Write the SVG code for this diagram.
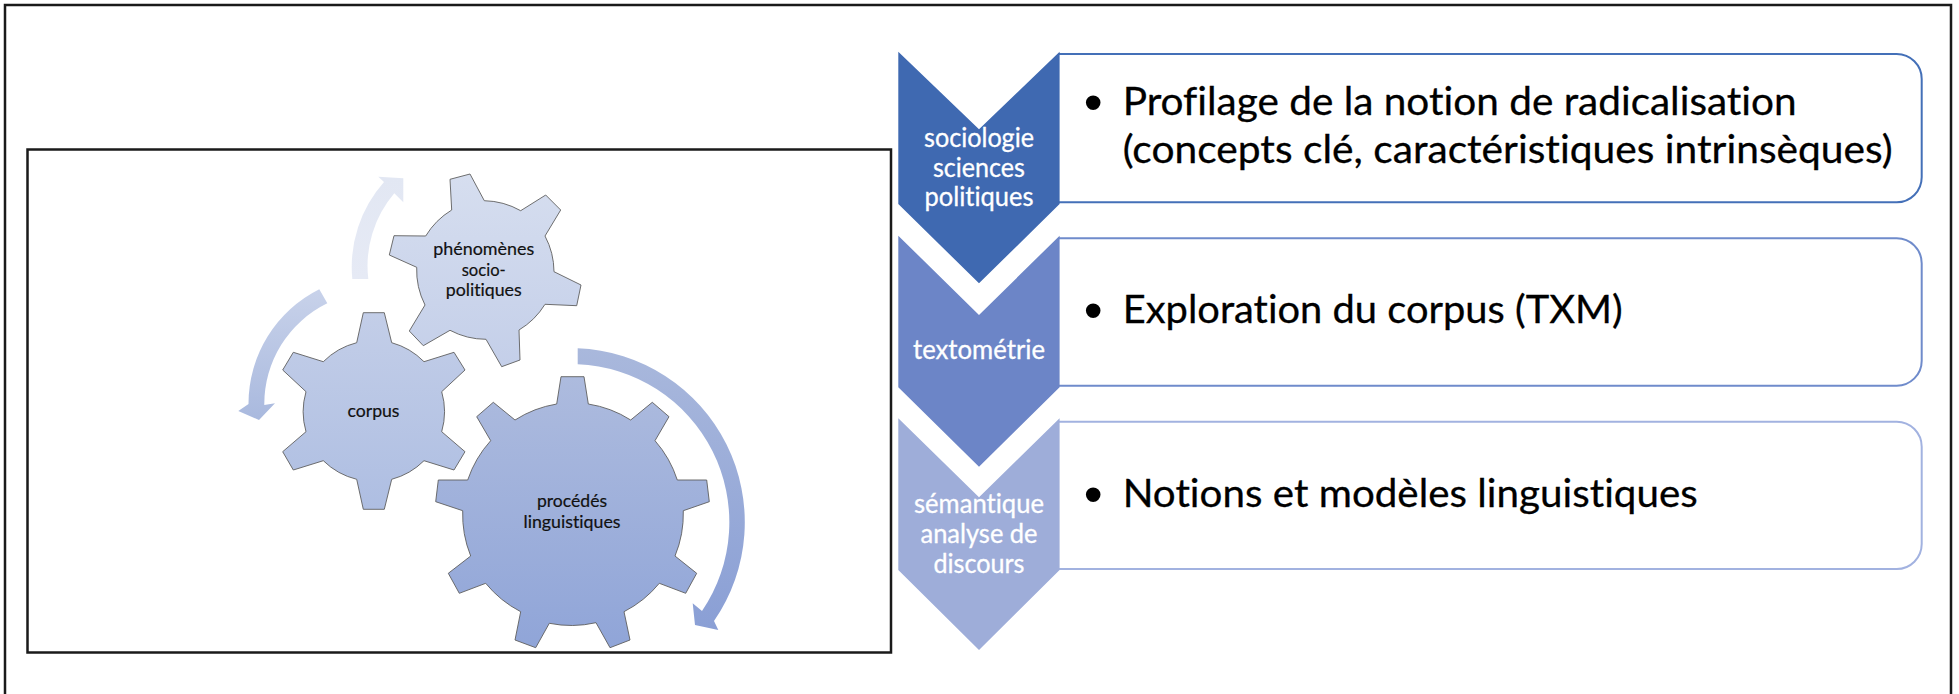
<svg xmlns="http://www.w3.org/2000/svg" width="1959" height="694" viewBox="0 0 1959 694">
<style>
text{font-variant-ligatures:none}
.frame{fill:none;stroke:#1a1a1a;stroke-width:2.5}
.gear{stroke:#5f5f5f;stroke-width:.9;stroke-linejoin:round}
.gt{font-family:"Lato","Liberation Sans",sans-serif;font-size:18px;fill:#111;stroke:#111;stroke-width:.2;text-anchor:middle}
.ct{font-family:"Lato","Liberation Sans",sans-serif;font-size:26px;fill:#fff;stroke:#fff;stroke-width:.3;text-anchor:middle}
.bt{font-family:"Lato","Liberation Sans",sans-serif;font-size:39px;fill:#000;stroke:#000;stroke-width:.3}
.bu{font-family:"Liberation Sans",sans-serif;font-size:54px;fill:#000;text-anchor:middle}
.box{fill:#fff;stroke-width:2}
</style>
<defs>
<linearGradient id="g1" x1="0" y1="0" x2="0" y2="1"><stop offset="0" stop-color="#d6deef"/><stop offset="1" stop-color="#c4cfe9"/></linearGradient>
<linearGradient id="g2" x1="0" y1="0" x2="0" y2="1"><stop offset="0" stop-color="#c3cee8"/><stop offset="1" stop-color="#aebee2"/></linearGradient>
<linearGradient id="g3" x1="0" y1="0" x2="0" y2="1"><stop offset="0" stop-color="#adbbde"/><stop offset="1" stop-color="#90a5d8"/></linearGradient>
<linearGradient id="a1" x1="0" y1="0" x2="0" y2="1"><stop offset="0" stop-color="#e2e7f3"/><stop offset="1" stop-color="#e6eaf5"/></linearGradient>
<linearGradient id="a2" x1="0" y1="0" x2="0" y2="1"><stop offset="0" stop-color="#c8d2ea"/><stop offset="1" stop-color="#a9b9de"/></linearGradient>
<linearGradient id="a3" x1="0" y1="0" x2="0" y2="1"><stop offset="0" stop-color="#a9b8dc"/><stop offset="1" stop-color="#8a9fd5"/></linearGradient>
</defs>
<rect width="1959" height="694" fill="#fff"/>
<path class="frame" d="M5,694V5H1951V694"/>
<rect class="frame" x="27.5" y="149.5" width="863.5" height="503"/>

<g id="connectors">
<path fill="url(#a1)" d="M352.3,279A128,128 0 0 1 384,182L378.3,176.7L403.3,178.3L403.3,202.3L394.3,193.3A112,112 0 0 0 368.3,279Z"/>
<path fill="url(#a2)" d="M319.3,289.3A128,128 0 0 0 248.5,404L238.3,411L259,420L275,403.3L264.3,405A112,112 0 0 1 327.3,303.3Z"/>
<path fill="url(#a3)" d="M577.7,348.3A174,174 0 0 1 714,621L718.3,630L695,625L692.7,603.3L702,611A158,158 0 0 0 577.7,364.3Z"/>
</g>

<g id="gear-phenomenes">
<path class="gear" fill="url(#g1)" d="M450,179.3L470,174L484.3,200.7A77,77 0 0 1 520.7,210.7L545.7,195L560.7,210L545,236A77,77 0 0 1 554,271.7L581,285L576.7,305.7L545,304.3A77,77 0 0 1 519,330L520,360L501.7,366.7L486,339.3A77,77 0 0 1 450,330.3L423.3,345.7L409.3,331L425,305A77,77 0 0 1 416.7,267.3L389.3,255L394,235.7L425.7,236A77,77 0 0 1 451.7,210Z"/>
<text class="gt" x="483.7" y="255" textLength="101" lengthAdjust="spacingAndGlyphs">phénomènes</text>
<text class="gt" x="483.7" y="276" textLength="44" lengthAdjust="spacingAndGlyphs">socio-</text>
<text class="gt" x="483.7" y="295.7" textLength="76" lengthAdjust="spacingAndGlyphs">politiques</text>
</g>
<g id="gear-corpus">
<path class="gear" fill="url(#g2)" d="M363.3,312.7L384.3,312.7L391.7,342.7A72,72 0 0 1 424,361.7L454,352.3L465,370L441.7,391.7A72,72 0 0 1 441.7,431.7L465,451.7L454,470L424,460.7A72,72 0 0 1 391.7,479.3L384.3,509.3L363.3,509.3L356.7,479.3A72,72 0 0 1 323.3,460.7L293.3,470L282.7,451.7L306,431.7A72,72 0 0 1 306,391.7L282.7,370L293.3,352.3L323.3,361.7A72,72 0 0 1 356.7,342.7Z"/>
<text class="gt" x="373.5" y="417.3" textLength="52" lengthAdjust="spacingAndGlyphs">corpus</text>
</g>
<g id="gear-procedes">
<path class="gear" fill="url(#g3)" d="M561,376.7L584,376.7L588.3,404A111,111 0 0 1 630.7,420L652.3,402.3L669,416.7L655,440.7A111,111 0 0 1 677.3,480L706.7,480L709.3,501.7L683.3,510.7A111,111 0 0 1 675,556L696.7,573.3L685.7,593.3L659.3,583.3A111,111 0 0 1 624,611.7L630,640L610,647.7L596,622.7A111,111 0 0 1 549.3,623.3L535.7,647.7L515,640L520.7,611.7A111,111 0 0 1 485.7,583.3L459.3,593.3L448.3,573.3L470.7,556A111,111 0 0 1 462.7,510.7L435.7,501.7L438.3,480L467.7,480A111,111 0 0 1 490.7,440.7L476.7,416.7L493.3,402.3L515,420A111,111 0 0 1 556.7,404Z"/>
<text class="gt" x="572" y="507.3" textLength="70" lengthAdjust="spacingAndGlyphs">procédés</text>
<text class="gt" x="572" y="527.7" textLength="97" lengthAdjust="spacingAndGlyphs">linguistiques</text>
</g>

<g id="box-1">
<path class="box" stroke="#4470b8" d="M1059,54H1896.7A25,25 0 0 1 1921.7,79V177.3A25,25 0 0 1 1896.7,202.3H1059"/>
<text class="bu" x="1093.3" y="121">•</text>
<text class="bt" x="1122.7" y="115" textLength="674" lengthAdjust="spacingAndGlyphs">Profilage de la notion de radicalisation</text>
<text class="bt" x="1122.7" y="163" textLength="770" lengthAdjust="spacingAndGlyphs">(concepts clé, caractéristiques intrinsèques)</text>
</g>
<g id="box-2">
<path class="box" stroke="#6f8bcb" d="M1059,238.3H1896.7A25,25 0 0 1 1921.7,263.3V360.7A25,25 0 0 1 1896.7,385.7H1059"/>
<text class="bu" x="1093.3" y="329.3">•</text>
<text class="bt" x="1122.7" y="323" textLength="500" lengthAdjust="spacingAndGlyphs">Exploration du corpus (TXM)</text>
</g>
<g id="box-3">
<path class="box" stroke="#a2b2e0" d="M1059,421.7H1896.7A25,25 0 0 1 1921.7,446.7V544A25,25 0 0 1 1896.7,569H1059"/>
<text class="bu" x="1093.3" y="512.6">•</text>
<text class="bt" x="1122.7" y="506.7" textLength="575" lengthAdjust="spacingAndGlyphs">Notions et modèles linguistiques</text>
</g>

<g id="chevron-1">
<path fill="#3f69b1" d="M898.3,51.7L979,129.3L1059.6,51.7V204L979,283.3L898.3,204Z"/>
<text class="ct" x="979" y="146.7" textLength="110" lengthAdjust="spacingAndGlyphs">sociologie</text>
<text class="ct" x="979" y="176.7" textLength="92" lengthAdjust="spacingAndGlyphs">sciences</text>
<text class="ct" x="979" y="206" textLength="109" lengthAdjust="spacingAndGlyphs">politiques</text>
</g>
<g id="chevron-2">
<path fill="#6c85c7" d="M898.3,235.7L979,315L1059.6,235.7V387.3L979,466.7L898.3,387.3Z"/>
<text class="ct" x="979" y="359.3" textLength="132" lengthAdjust="spacingAndGlyphs">textométrie</text>
</g>
<g id="chevron-3">
<path fill="#9eadd9" d="M898.3,418.3L979,497.3L1059.6,418.3V570L979,650L898.3,570Z"/>
<text class="ct" x="979" y="512.7" textLength="130" lengthAdjust="spacingAndGlyphs">sémantique</text>
<text class="ct" x="979" y="542.7" textLength="117" lengthAdjust="spacingAndGlyphs">analyse de</text>
<text class="ct" x="979" y="572.7" textLength="91" lengthAdjust="spacingAndGlyphs">discours</text>
</g>
</svg>
